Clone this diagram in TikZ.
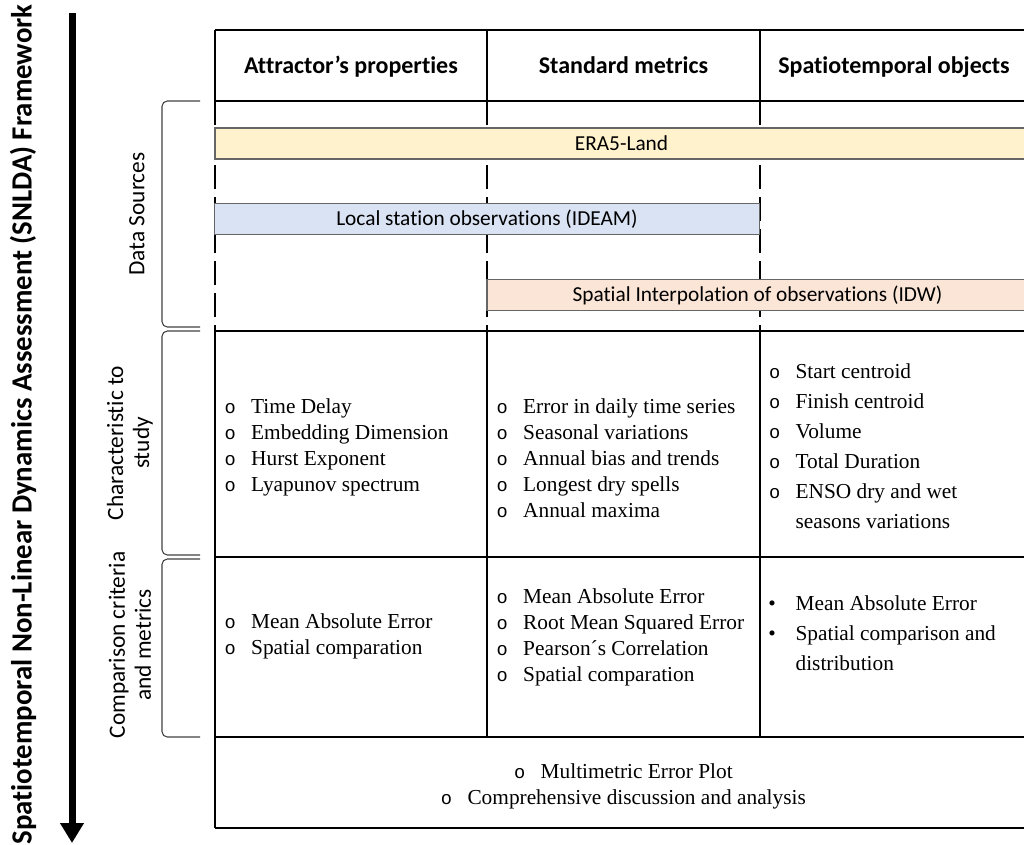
\documentclass[tikz,border=0pt]{standalone}
\usepackage{fontspec}
\usepackage{graphicx}
\usepackage{xcolor}
\usepackage{tikz}
\usetikzlibrary{calc}
\usetikzlibrary{positioning, arrows.meta}
\setmainfont{Liberation Serif}
\newfontfamily\calibri[Ligatures={NoCommon,NoRequired,NoContextual,NoRare},Contextuals=NoAlternate]{Carlito}
\newfontfamily\couriermono{Liberation Mono}
\definecolor{eraYellow}{HTML}{FFF2CC}
\definecolor{ideamBlue}{HTML}{DAE3F3}
\definecolor{idwPeach}{HTML}{FBE5D6}
\newcommand{\ritem}[1]{\makebox[20.5pt][l]{\hspace{0.6pt}\couriermono\fontsize{14}{14}\selectfont o}#1}
\newcommand{\dotitem}[1]{\makebox[20.5pt][l]{\textbullet}#1}
\newcommand{\contitem}[1]{\hspace*{20.5pt}#1}

\begin{document}
\begin{tikzpicture}[x=0.75pt,y=-0.75pt,
                    grid line/.style={line width=1.5pt},
                    dash line/.style={line width=1.5pt,dash pattern=on 18pt off 6pt},
                    bracket/.style={draw=black!75,line width=0.8pt,rounded corners=4pt},
                    head node/.style={anchor=base,font=\calibri\bfseries\fontsize{18}{22}\selectfont},
                    side node/.style={rotate=90,align=center,font=\calibri\fontsize{17.5}{19.5}\selectfont},
                    bar node/.style={draw=black!60,line width=0.8pt,inner sep=0pt,minimum height=23.25pt,
                                     text height=10.3pt,text depth=0pt,font=\calibri\fontsize{16}{19}\selectfont},
                    item/.style={anchor=base west,inner sep=0pt,font=\fontsize{16}{19.5}\selectfont},
                    next item/.style 2 args={below=#2 of #1.base west,anchor=base west}]

 \useasboundingbox (0,0) rectangle (1024,845);
 \clip (0,0) rectangle (1024,845);

 % title and flow arrow
 \node[rotate=90,font=\calibri\bfseries\fontsize{22}{26}\selectfont] (title) at (23,424.5)
   {\resizebox{630pt}{\height}{Spatiotemporal Non-Linear Dynamics Assessment (SNLDA) Framework}};
 \coordinate (flow top) at (72,13);
 \coordinate (flow end) at (72,843);
 \draw[line width=5.25pt,-{Triangle[width=17pt,length=15pt]}] (flow top) -- (flow end);

 % stage labels
 \node[side node] (ds) at (137,214) {Data Sources};
 \node[side node] (cs) at (130,443) {Characteristic to\\study};
 \node[side node] (cm) at (130,645) {Comparison criteria\\and metrics};

 \draw[bracket] (200,101) -- (162,101) -- (162,327) -- (200,327);
 \draw[bracket] (200,331) -- (162,331) -- (162,555) -- (200,555);
 \draw[bracket] (200,559) -- (162,559) -- (162,737) -- (200,737);

 % table
 \draw[grid line] (215,30) -- (1030,30);
 \draw[grid line] (215,101) -- (1030,101);
 \draw[grid line] (215,331) -- (1030,331);
 \draw[grid line] (215,557) -- (1030,557);
 \draw[grid line] (215,737) -- (1030,737);
 \draw[grid line] (215,828) -- (1030,828);
 \draw[grid line] (215,30) -- (215,101);
 \draw[grid line] (487,30) -- (487,101);
 \draw[grid line] (760,30) -- (760,101);
 \draw[dash line] (215,101) -- (215,331);
 \draw[dash line] (487,101) -- (487,331);
 \draw[dash line] (760,101) -- (760,331);
 \draw[grid line] (215,331) -- (215,828);
 \draw[grid line] (487,331) -- (487,737);
 \draw[grid line] (760,331) -- (760,737);
 \draw[grid line] (1030,30) -- (1030,828);

 \node[head node] (h1) at (351,74) {Attractor’s properties};
 \node[head node] (h2) at (623.5,74) {Standard metrics};
 \node[head node] (h3) at (894,74) {Spatiotemporal objects};

 % data sources
 \node[bar node,fill=eraYellow,minimum width=609.75pt] (era) at (621.5,143.5) {ERA5-Land};
 \node[bar node,fill=ideamBlue,minimum width=408.75pt] (ideam) at (487,219) {Local station observations (IDEAM)};
 \node[bar node,fill=idwPeach,minimum width=405.75pt] (idw) at (757.5,295) {Spatial Interpolation of observations (IDW)};

 % characteristics
 \node[item] (att1) at (223.6,413) {\ritem{Time Delay}};
 \node[item] (att2) [next item={att1}{19.5pt}] {\ritem{Embedding Dimension}};
 \node[item] (att3) [next item={att2}{19.5pt}] {\ritem{Hurst Exponent}};
 \node[item] (att4) [next item={att3}{19.5pt}] {\ritem{Lyapunov spectrum}};

 \node[item] (std1) at (495.6,413) {\ritem{Error in daily time series}};
 \node[item] (std2) [next item={std1}{19.5pt}] {\ritem{Seasonal variations}};
 \node[item] (std3) [next item={std2}{19.5pt}] {\ritem{Annual bias and trends}};
 \node[item] (std4) [next item={std3}{19.5pt}] {\ritem{Longest dry spells}};
 \node[item] (std5) [next item={std4}{19.5pt}] {\ritem{Annual maxima}};

 \node[item] (obj1) at (768,378) {\ritem{Start centroid}};
 \node[item] (obj2) [next item={obj1}{22.5pt}] {\ritem{Finish centroid}};
 \node[item] (obj3) [next item={obj2}{22.5pt}] {\ritem{Volume}};
 \node[item] (obj4) [next item={obj3}{22.5pt}] {\ritem{Total Duration}};
 \node[item] (obj5) [next item={obj4}{22.5pt}] {\ritem{ENSO dry and wet}};
 \node[item] (obj6) [next item={obj5}{22.5pt}] {\contitem{seasons variations}};

 % comparison criteria
 \node[item] (catt1) at (223.6,628) {\ritem{Mean Absolute Error}};
 \node[item] (catt2) [next item={catt1}{19.5pt}] {\ritem{Spatial comparation}};

 \node[item] (cstd1) at (495.6,603) {\ritem{Mean Absolute Error}};
 \node[item] (cstd2) [next item={cstd1}{19.5pt}] {\ritem{Root Mean Squared Error}};
 \node[item] (cstd3) [next item={cstd2}{19.5pt}] {\ritem{Pearson´s Correlation}};
 \node[item] (cstd4) [next item={cstd3}{19.5pt}] {\ritem{Spatial comparation}};

 \node[item] (cobj1) at (768,610) {\dotitem{Mean Absolute Error}};
 \node[item] (cobj2) [next item={cobj1}{22.5pt}] {\dotitem{Spatial comparison and}};
 \node[item] (cobj3) [next item={cobj2}{22.5pt}] {\contitem{distribution}};

 % final assessment
 \node[item,anchor=base] (fin1) at (623,778) {\ritem{Multimetric Error Plot}};
 \node[item,anchor=base] (fin2) at (623,804) {\ritem{Comprehensive discussion and analysis}};

\end{tikzpicture}
\end{document}
